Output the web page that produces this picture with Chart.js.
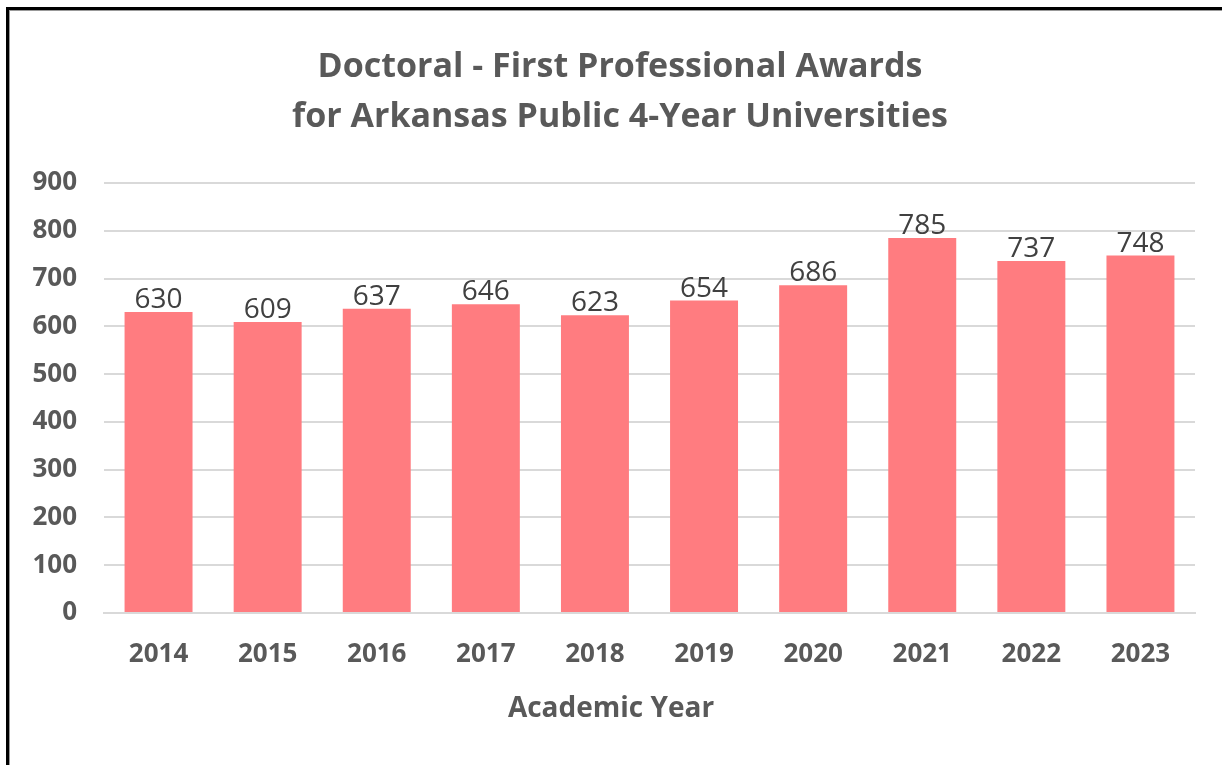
<!DOCTYPE html>
<html><head><meta charset="utf-8">
<script src="https://cdn.jsdelivr.net/npm/chart.js@4"></script>
<style>
html,body{margin:0;padding:0;background:#fff;width:1222px;height:765px;overflow:hidden;}
#frame{position:absolute;left:6px;top:7px;width:1300px;height:800px;border-top:3px solid #000;border-left:3px solid #000;box-shadow:inset 1px 1px 0 #999;}
#wrap{position:absolute;left:10px;top:11px;width:1212px;height:754px;}
</style></head><body>
<div id="frame"></div>
<div id="wrap"><canvas id="c"></canvas></div>
<script>
const categories = ['2014','2015','2016','2017','2018','2019','2020','2021','2022','2023'];
const awards = [630, 609, 637, 646, 623, 654, 686, 785, 737, 748];
const titleLines = ['Doctoral - First Professional Awards', 'for Arkansas Public 4-Year Universities'];
const xAxisTitle = 'Academic Year';

const FONT = "'Open Sans', sans-serif";
const valueLabels = {
  id: 'valueLabels',
  afterDatasetsDraw(chart) {
    const ctx = chart.ctx;
    const meta = chart.getDatasetMeta(0);
    ctx.save();
    ctx.font = "28px " + FONT;
    ctx.fillStyle = '#404040';
    ctx.textAlign = 'center';
    ctx.textBaseline = 'alphabetic';
    meta.data.forEach((bar, i) => {
      ctx.fillText(String(awards[i]), bar.x, bar.y - 4);
    });
    ctx.restore();
  }
};
// Chart title and axis title centred on the whole chart object (as in the reference)
const titles = {
  id: 'titles',
  afterDraw(chart) {
    const ctx = chart.ctx;
    const cx = chart.width / 2;
    ctx.save();
    ctx.fillStyle = '#595959';
    ctx.textAlign = 'center';
    ctx.textBaseline = 'middle';
    ctx.font = "bold 34px " + FONT;
    titleLines.forEach((line, i) => ctx.fillText(line, cx + 4, 56 + i * 50));
    ctx.font = "bold 28px " + FONT;
    ctx.fillText(xAxisTitle, cx - 5, chart.scales.x.bottom - 15);
    ctx.restore();
  }
};

new Chart(document.getElementById('c'), {
  type: 'bar',
  data: {
    labels: categories,
    datasets: [{
      data: awards,
      backgroundColor: '#ff7c80',
      categoryPercentage: 0.623,
      barPercentage: 1.0
    }]
  },
  options: {
    responsive: true,
    maintainAspectRatio: false,
    animation: false,
    layout: { padding: { left: 22, right: 27, top: 172, bottom: 41 } },
    plugins: {
      legend: { display: false },
      tooltip: { enabled: false },
      title: { display: false }
    },
    scales: {
      y: {
        min: 0, max: 900,
        afterFit(scale) { scale.width = 72; },
        ticks: { stepSize: 100, color: '#595959', font: { family: FONT, size: 26, weight: 'bold' }, padding: 27 },
        grid: { color: '#d9d9d9', lineWidth: 2, drawTicks: false },
        border: { display: false }
      },
      x: {
        afterFit(scale) { scale.height = 111; },
        ticks: { color: '#595959', font: { family: FONT, size: 26, weight: 'bold' }, padding: 26 },
        grid: { display: false, drawTicks: false },
        border: { display: true, color: '#d9d9d9', width: 2 },
        title: { display: false }
      }
    }
  },
  plugins: [valueLabels, titles]
});
</script>
</body></html>
